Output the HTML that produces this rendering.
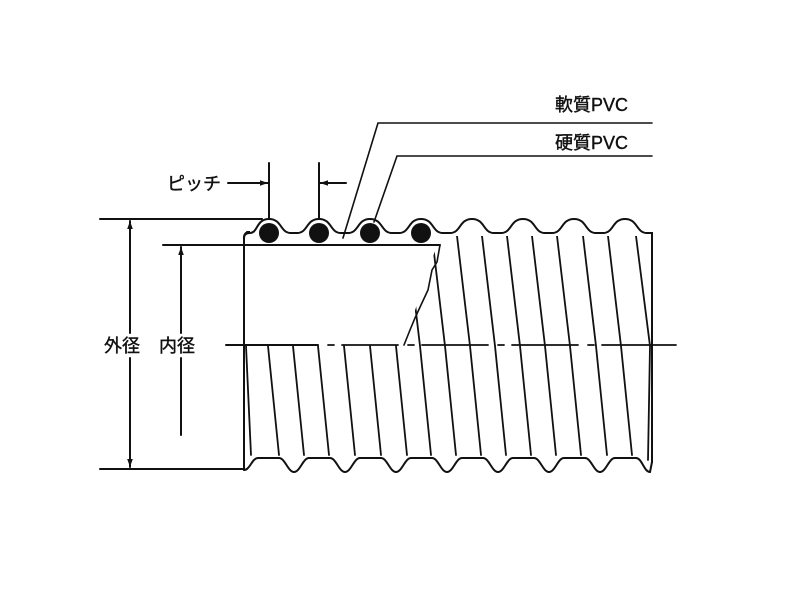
<!DOCTYPE html>
<html><head><meta charset="utf-8"><style>
html,body{margin:0;padding:0;background:#fff;width:800px;height:600px;overflow:hidden}
text{font-family:"Liberation Sans","Noto Sans CJK JP",sans-serif;fill:#111;stroke:#111;stroke-width:0.4}
</style></head><body>
<svg width="800" height="600" viewBox="0 0 800 600" xmlns="http://www.w3.org/2000/svg">
<defs>
<marker id="a" viewBox="0 0 10 10" refX="10" refY="5" markerWidth="10" markerHeight="8" orient="auto-start-reverse" markerUnits="userSpaceOnUse"><path d="M0,1.5 L10,5 L0,8.5z" fill="#111"/></marker>
<clipPath id="up"><polygon points="440,236 660,236 660,346 403,346"/></clipPath>
</defs>
<g stroke="#111" stroke-width="2" fill="none" stroke-linecap="round">
<line x1="100" y1="219" x2="262" y2="219"/>
<line x1="163" y1="245" x2="244" y2="245"/>
<line x1="100" y1="469" x2="244" y2="469"/>
<line x1="130" y1="221" x2="130" y2="333" marker-start="url(#a)"/>
<line x1="130" y1="358" x2="130" y2="467" marker-end="url(#a)"/>
<line x1="181" y1="247" x2="181" y2="333" marker-start="url(#a)"/>
<line x1="181" y1="358" x2="181" y2="435"/>
<line x1="269" y1="163" x2="269" y2="219"/>
<line x1="319" y1="163" x2="319" y2="219"/>
<line x1="228" y1="183" x2="268" y2="183" marker-end="url(#a)"/>
<line x1="346" y1="183" x2="320" y2="183" marker-end="url(#a)"/>
<polyline points="652,123 378,123 343,238" stroke-width="1.6"/>
<polyline points="652,156 397,156 374,222" stroke-width="1.6"/>
<path d="M244,470 L244,238 Q244,232 250,232 L247,232"/>
<path d="M244,238 Q244,233 250,233 C258,233 256,219 269,219 C282,219 280,233 291,233 L297,233 C308,233 306,219 319,219 C332,219 330,233 341,233 L348,233 C359,233 357,219 370,219 C383,219 381,233 392,233 L399,233 C410,233 408,219 421,219 C434,219 432,233 443,233 L450,233 C461,233 459,219 472,219 C485,219 483,233 494,233 L501,233 C512,233 510,219 523,219 C536,219 534,233 545,233 L552,233 C563,233 561,219 574,219 C587,219 585,233 596,233 L603,233 C614,233 612,219 625,219 C638,219 636,233 647,233 L652,233 L652,462"/>
<line x1="244" y1="245" x2="440" y2="245"/>
<path d="M440,245 L437,262 L432,270 L428,290 L421,305 L415,318 L410,330 L404,345" stroke-width="1.6"/>
<path d="M226,345 L318,345" />
<path d="M328,345 L334,345 M342,345 L398,345 M408,345 L414,345 M422,345 L488,345 M498,345 L504,345 M512,345 L578,345 M588,345 L594,345 M602,345 L676,345" stroke-width="1.8"/>
<path d="M244,470 C250,470 252,458 258,458 L279,458 C285,458 288,472 294,472 C300,472 303,458 309,458 L330,458 C336,458 339,472 345,472 C351,472 354,458 360,458 L381,458 C387,458 390,472 396,472 C402,472 405,458 411,458 L432,458 C438,458 441,472 447,472 C453,472 456,458 462,458 L483,458 C489,458 492,472 498,472 C504,472 507,458 513,458 L534,458 C540,458 543,472 549,472 C555,472 558,458 564,458 L585,458 C591,458 594,472 600,472 C606,472 609,458 615,458 L636,458 C642,458 644,472 650,472 L652,462"/>
<g stroke-width="1.8">
<line x1="246" y1="346" x2="251" y2="455"/>
<line x1="268" y1="346" x2="279" y2="455"/>
<line x1="293" y1="346" x2="304" y2="455"/>
<line x1="318" y1="346" x2="329" y2="455"/>
<line x1="344" y1="346" x2="355" y2="455"/>
<line x1="370" y1="346" x2="381" y2="455"/>
<line x1="396" y1="346" x2="407" y2="455"/>
<line x1="420" y1="346" x2="431" y2="455"/>
<line x1="445" y1="346" x2="456" y2="455"/>
<line x1="470" y1="346" x2="481" y2="455"/>
<line x1="495" y1="346" x2="506" y2="455"/>
<line x1="520" y1="346" x2="531" y2="455"/>
<line x1="545" y1="346" x2="556" y2="455"/>
<line x1="570" y1="346" x2="581" y2="455"/>
<line x1="596" y1="346" x2="607" y2="455"/>
<line x1="621" y1="346" x2="632" y2="455"/>
<line x1="650" y1="346" x2="648" y2="460"/>
</g>
<g stroke-width="1.8" clip-path="url(#up)">
<line x1="407" y1="236" x2="420" y2="346"/>
<line x1="432" y1="236" x2="445" y2="346"/>
<line x1="457" y1="236" x2="470" y2="346"/>
<line x1="482" y1="236" x2="495" y2="346"/>
<line x1="507" y1="236" x2="520" y2="346"/>
<line x1="532" y1="236" x2="545" y2="346"/>
<line x1="557" y1="236" x2="570" y2="346"/>
<line x1="583" y1="236" x2="596" y2="346"/>
<line x1="608" y1="236" x2="621" y2="346"/>
<line x1="636" y1="236" x2="650" y2="346"/>
</g>
</g>
<g fill="#111">
<circle cx="269" cy="233" r="10"/>
<circle cx="319" cy="233" r="10"/>
<circle cx="370" cy="233" r="10"/>
<circle cx="421" cy="233" r="10"/>
</g>
<g font-size="18">
<text x="555" y="111">軟質PVC</text>
<text x="555" y="149">硬質PVC</text>
<text x="167" y="190">ピッチ</text>
<text x="104" y="352">外径</text>
<text x="159" y="352">内径</text>
</g>
</svg>
</body></html>
